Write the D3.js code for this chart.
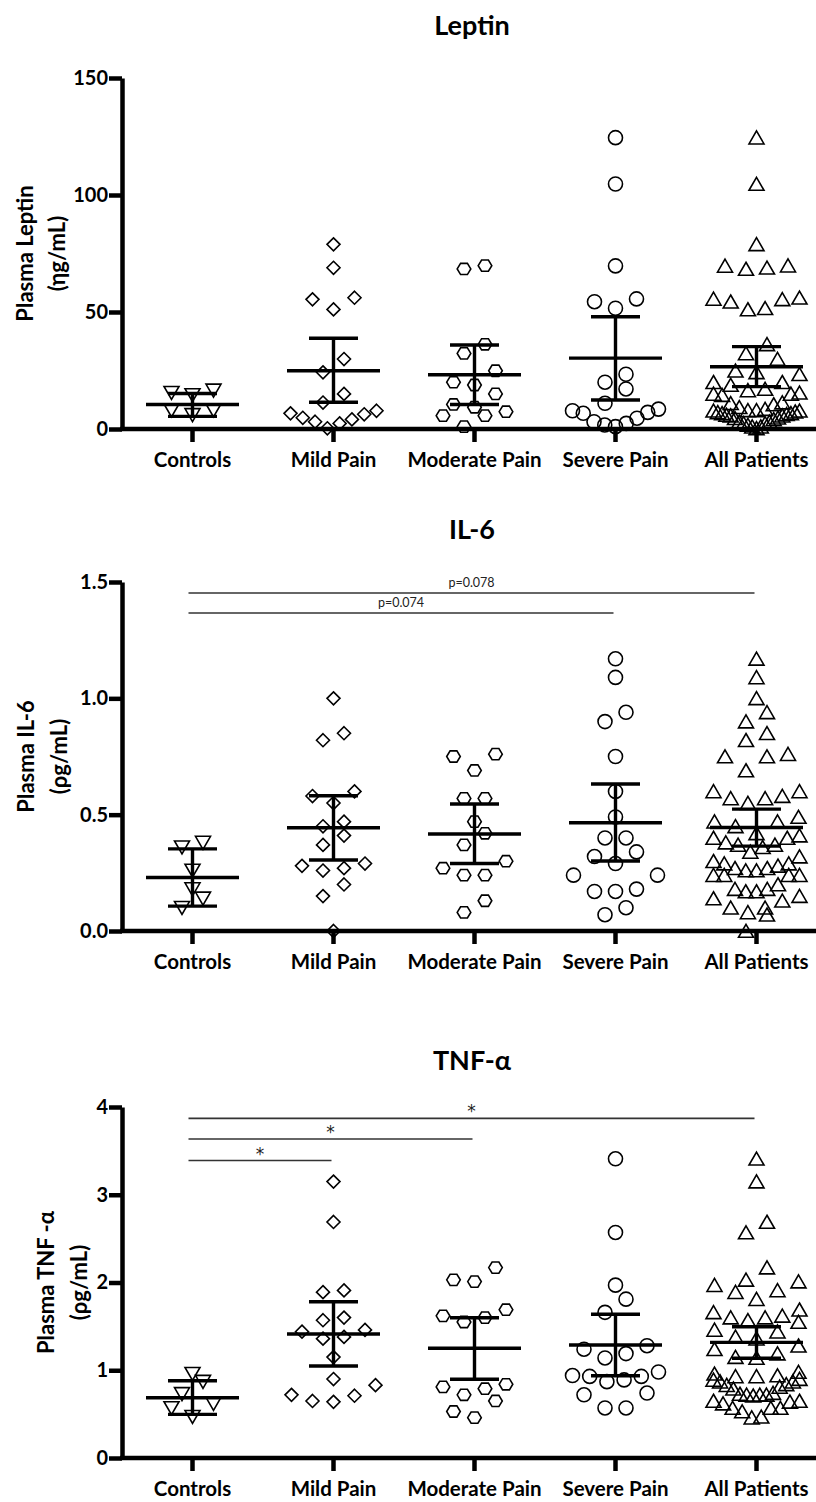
<!DOCTYPE html>
<html><head><meta charset="utf-8">
<script src="https://cdn.jsdelivr.net/npm/d3@7"></script>
<style>
body{margin:0;background:#fff}
</style>
</head><body>
<svg id="chart" width="816" height="1502"></svg>
<script>
// ---------- DATA ----------
const categories = ["Controls", "Mild Pain", "Moderate Pain", "Severe Pain", "All Patients"];

// Leptin (ng/mL)
const leptinControls = [16.5, 15.5, 14.5, 8, 6, 8];
const leptinMild = [78.9, 68.9, 55.4, 56.1, 51.1, 29.9, 24.2, 15, 11.3, 6.7, 7.8, 6.3, 4.8, 4.1, 3.1, 2.4, 0.3];
const leptinModerate = [68.4, 69.8, 36.2, 32.3, 24.9, 20, 18.8, 15, 10.5, 9.3, 7.4, 5.7, 5.7, 1];
const leptinSevere = [124.5, 104.7, 69.7, 54.4, 55.6, 51.6, 23.4, 20, 17.1, 11, 8.5, 7.8, 7.1, 6.7, 4.6, 3.1, 2.4, 1, 1.7];
const leptinMean = [10.5, 24.9, 23.2, 30.3, 26.6];
const leptinLow = [5.4, 11.4, 10.5, 12.4, 18.1];
const leptinHigh = [15.2, 38.8, 35.9, 48.0, 35.2];
const leptinTicks = [0, 50, 100, 150];
const leptinTickLabels = ["0", "50", "100", "150"];

// IL-6 (pg/mL)
const il6Controls = [0.36, 0.38, 0.26, 0.18, 0.14, 0.10];
const il6Mild = [1.00, 0.82, 0.85, 0.60, 0.58, 0.55, 0.47, 0.45, 0.41, 0.37, 0.29, 0.28, 0.27, 0.26, 0.20, 0.15, 0.00];
const il6Moderate = [0.75, 0.76, 0.69, 0.57, 0.57, 0.47, 0.42, 0.37, 0.30, 0.27, 0.24, 0.24, 0.13, 0.08];
const il6Severe = [1.17, 1.09, 0.90, 0.94, 0.75, 0.60, 0.49, 0.40, 0.40, 0.34, 0.32, 0.29, 0.24, 0.24, 0.17, 0.17, 0.18, 0.10, 0.07];
const il6Mean = [0.23, 0.444, 0.417, 0.465, 0.445];
const il6Low = [0.107, 0.305, 0.29, 0.301, 0.365];
const il6High = [0.353, 0.581, 0.546, 0.632, 0.524];
const il6Ticks = [0, 0.5, 1.0, 1.5];
const il6TickLabels = ["0.0", "0.5", "1.0", "1.5"];
const il6SigFrom = ["Controls", "Controls"];
const il6SigTo = ["All Patients", "Severe Pain"];
const il6SigLevel = [1.453, 1.367];
const il6SigText = ["p=0.078", "p=0.074"];

// TNF-alpha (pg/mL)
const tnfControls = [0.96, 0.87, 0.73, 0.62, 0.57, 0.47];
const tnfMild = [3.15, 2.69, 1.89, 1.91, 1.60, 1.57, 1.46, 1.44, 1.38, 1.36, 1.15, 0.90, 0.83, 0.72, 0.71, 0.64, 0.65];
const tnfModerate = [2.17, 2.03, 2.01, 1.69, 1.62, 1.60, 1.55, 0.84, 0.81, 0.79, 0.72, 0.65, 0.53, 0.46];
const tnfSevere = [3.41, 2.57, 1.97, 1.81, 1.66, 1.28, 1.24, 1.19, 1.14, 0.98, 0.94, 0.93, 0.89, 0.87, 0.93, 0.72, 0.74, 0.57, 0.57];
const tnfMean = [0.687, 1.413, 1.25, 1.288, 1.318];
const tnfLow = [0.497, 1.048, 0.897, 0.938, 1.136];
const tnfHigh = [0.881, 1.781, 1.599, 1.638, 1.496];
const tnfTicks = [0, 1, 2, 3, 4];
const tnfTickLabels = ["0", "1", "2", "3", "4"];
const tnfSigFrom = ["Controls", "Controls", "Controls"];
const tnfSigTo = ["All Patients", "Moderate Pain", "Mild Pain"];
const tnfSigLevel = [3.87, 3.635, 3.39];
const tnfSigText = ["*", "*", "*"];

// ---------- MARKERS ----------
function polyType(pts) {
  return { draw(ctx) { ctx.moveTo(pts[0][0], pts[0][1]); for (let i = 1; i < pts.length; i++) ctx.lineTo(pts[i][0], pts[i][1]); ctx.closePath(); } };
}
const triDown = polyType([[-7.5, -6.3], [7.5, -6.3], [0, 6.7]]);
const triUp = polyType([[0, -6.7], [7.5, 6.3], [-7.5, 6.3]]);
const diamond = polyType([[0, -6.5], [6.5, 0], [0, 6.5], [-6.5, 0]]);
const hexagon = polyType([[-6.8, 0], [-3.4, -5.6], [3.4, -5.6], [6.8, 0], [3.4, 5.6], [-3.4, 5.6]]);
const circle = { draw(ctx) { ctx.moveTo(7, 0); ctx.arc(0, 0, 7, 0, 2 * Math.PI); } };
const markerTypes = [triDown, diamond, hexagon, circle, triUp];

// ---------- LAYOUT ----------
const FONT = "Lato, 'Open Sans', sans-serif";
const svg = d3.select("#chart");
const W = 816;
const x = d3.scaleBand().domain(categories).range([122, 827]).padding(0);

const panels = [
  { title: "Leptin", titleY: 35, label: ["Plasma Leptin", "(ηg/mL)"], labelX: [32.5, 65],
    groups: [leptinControls, leptinMild, leptinModerate, leptinSevere],
    mean: leptinMean, low: leptinLow, high: leptinHigh,
    ticks: leptinTicks, tickLabels: leptinTickLabels, domain: [0, 150], range: [429, 78],
    sigFrom: [], sigTo: [], sigLevel: [], sigText: [], star: false },
  { title: "IL-6", titleY: 539, label: ["Plasma IL-6", "(ρg/mL)"], labelX: [33.5, 66.5],
    groups: [il6Controls, il6Mild, il6Moderate, il6Severe],
    mean: il6Mean, low: il6Low, high: il6High,
    ticks: il6Ticks, tickLabels: il6TickLabels, domain: [0, 1.5], range: [931, 582],
    sigFrom: il6SigFrom, sigTo: il6SigTo, sigLevel: il6SigLevel, sigText: il6SigText, star: false },
  { title: "TNF-α", titleY: 1070, label: ["Plasma TNF -α", "(ρg/mL)"], labelX: [53.5, 87],
    groups: [tnfControls, tnfMild, tnfModerate, tnfSevere],
    mean: tnfMean, low: tnfLow, high: tnfHigh,
    ticks: tnfTicks, tickLabels: tnfTickLabels, domain: [0, 4], range: [1458, 1107],
    sigFrom: tnfSigFrom, sigTo: tnfSigTo, sigLevel: tnfSigLevel, sigText: tnfSigText, star: true }
];

// Prism-like scatter: group points into rows by pixel height, spread each row center-out
function scatterLayout(values, y, rowH, step0, maxW) {
  const pts = values.map(v => ({ v, py: y(v) })).sort((a, b) => a.v - b.v);
  const rows = [];
  let cur = null;
  for (const p of pts) {
    if (!cur || cur.y0 - p.py > rowH) { cur = { y0: p.py, pts: [] }; rows.push(cur); }
    cur.pts.push(p);
  }
  for (const r of rows) {
    const n = r.pts.length;
    const s = n > 1 ? Math.min(step0, maxW / (n - 1)) : 0;
    r.pts.forEach((p, i) => {
      let slot;
      if (n % 2 === 1) slot = i === 0 ? 0 : (i % 2 === 1 ? -Math.ceil(i / 2) : Math.ceil(i / 2));
      else slot = (i % 2 === 0 ? -1 : 1) * (Math.floor(i / 2) + 0.5);
      p.dx = slot * s;
    });
  }
  return pts;
}

panels.forEach(P => {
  const y = d3.scaleLinear().domain(P.domain).range(P.range);
  const g = svg.append("g");
  const allGroups = [...P.groups, P.groups.flat()];

  // title
  g.append("text").attr("x", 472).attr("y", P.titleY).attr("text-anchor", "middle")
    .style("font-family", FONT).attr("font-size", 27).attr("font-weight", 700).text(P.title);

  // y label (two lines, rotated)
  const cy = (P.range[0] + P.range[1]) / 2;
  P.label.forEach((t, i) => {
    g.append("text").attr("transform", `translate(${P.labelX[i]},${cy}) rotate(-90)`)
      .attr("text-anchor", "middle").style("font-family", FONT)
      .attr("font-size", 22).attr("font-weight", 700).text(t);
  });

  // y axis
  const ya = g.append("g").attr("transform", "translate(122,0)")
    .call(d3.axisLeft(y).tickValues(P.ticks).tickFormat((d, i) => P.tickLabels[i]).tickSize(13).tickSizeOuter(0).tickPadding(1));
  ya.select(".domain").attr("stroke", "#000").attr("stroke-width", 4.5);
  ya.selectAll(".tick line").attr("stroke", "#000").attr("stroke-width", 4.5);
  ya.selectAll(".tick text").attr("font-size", 20).attr("font-weight", 700).attr("fill", "#000")
    .style("font-family", FONT);

  // x axis
  const xa = g.append("g").attr("transform", `translate(0,${P.range[0]})`)
    .call(d3.axisBottom(x).tickSize(13).tickSizeOuter(0).tickPadding(10));
  xa.select(".domain").attr("stroke", "#000").attr("stroke-width", 4.5).attr("d", `M120,0H${W}`);
  xa.selectAll(".tick line").attr("stroke", "#000").attr("stroke-width", 4.5);
  xa.selectAll(".tick text").attr("font-size", 20.5).attr("font-weight", 700).attr("fill", "#000")
    .style("font-family", FONT);

  // significance bars
  P.sigLevel.forEach((lv, i) => {
    const x1 = x(P.sigFrom[i]) + x.bandwidth() / 2 - 4;
    const x2 = x(P.sigTo[i]) + x.bandwidth() / 2 - 2;
    g.append("line").attr("x1", x1).attr("x2", x2).attr("y1", y(lv)).attr("y2", y(lv))
      .attr("stroke", "#333").attr("stroke-width", 1.6);
    const t = g.append("text").attr("x", (x1 + x2) / 2).attr("text-anchor", "middle").attr("fill", "#222").text(P.sigText[i]);
    if (P.star) t.attr("y", y(lv) - 1).attr("font-size", 17).style("font-family", "'DejaVu Sans', sans-serif");
    else t.attr("y", y(lv) - 6).attr("font-size", 12.5).style("font-family", FONT);
  });

  // points
  allGroups.forEach((vals, gi) => {
    const cx = x(categories[gi]) + x.bandwidth() / 2;
    const pts = scatterLayout(vals, y, 18, 21, 86);
    g.append("g").selectAll("path").data(pts).join("path")
      .attr("transform", d => `translate(${cx + d.dx},${d.py})`)
      .attr("d", d3.symbol().type(markerTypes[gi]))
      .attr("fill", "none").attr("stroke", "#000").attr("stroke-width", 1.6);
  });

  // mean and CI bars
  categories.forEach((c, i) => {
    const cx = x(c) + x.bandwidth() / 2;
    const eb = g.append("g").attr("stroke", "#000").attr("stroke-width", 3.4);
    eb.append("line").attr("x1", cx).attr("x2", cx).attr("y1", y(P.low[i])).attr("y2", y(P.high[i]));
    eb.append("line").attr("x1", cx - 46.5).attr("x2", cx + 46.5).attr("y1", y(P.mean[i])).attr("y2", y(P.mean[i]));
    eb.append("line").attr("x1", cx - 24.5).attr("x2", cx + 24.5).attr("y1", y(P.low[i])).attr("y2", y(P.low[i]));
    eb.append("line").attr("x1", cx - 24.5).attr("x2", cx + 24.5).attr("y1", y(P.high[i])).attr("y2", y(P.high[i]));
  });
});
</script>
</body></html>
